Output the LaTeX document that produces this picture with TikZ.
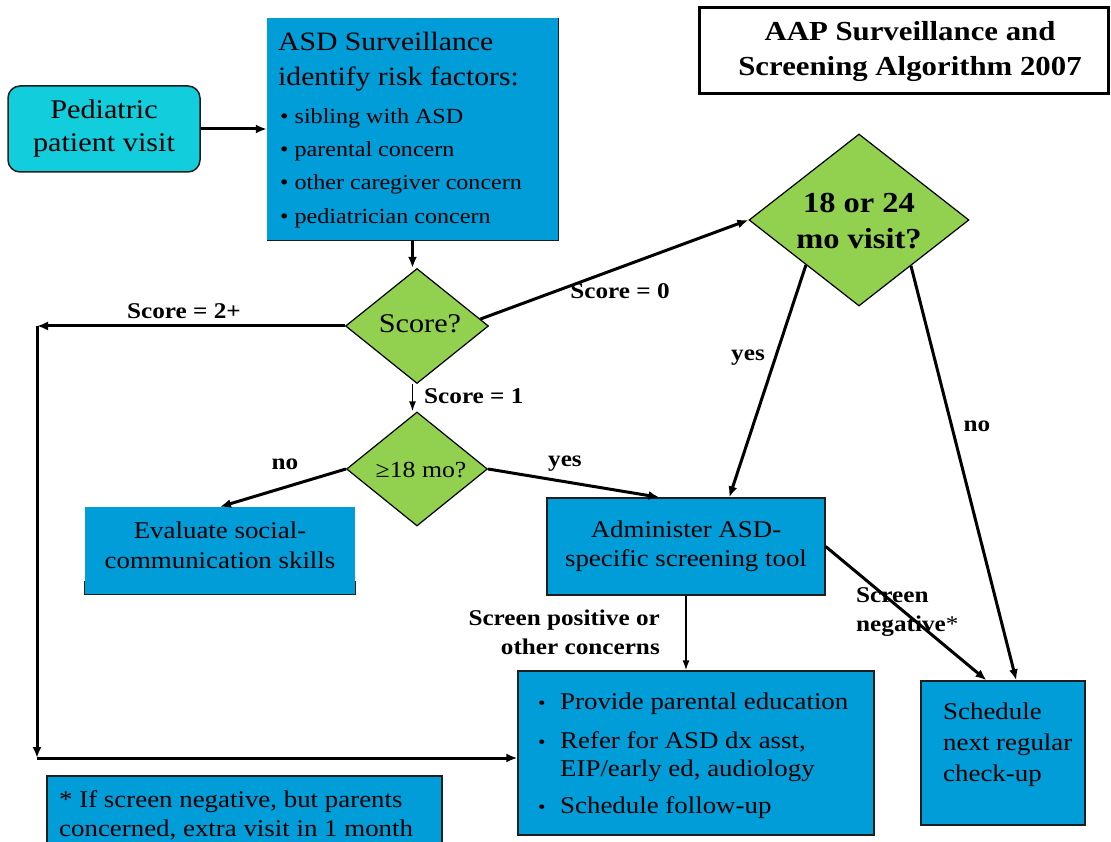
\documentclass[tikz,border=0pt]{standalone}
\usepackage{fontspec}
\setmainfont{Liberation Serif}[FakeStretch=1.12]
\usetikzlibrary{shapes.geometric,arrows.meta,calc}
\definecolor{boxblue}{RGB}{0,157,217}
\definecolor{diagreen}{RGB}{146,208,80}
\definecolor{pedcyan}{RGB}{18,206,220}
\definecolor{edgecol}{RGB}{30,30,30}
\newcommand{\fsz}[2]{\fontsize{#1}{#2}\selectfont}
\begin{document}
\begin{tikzpicture}[x=1pt,y=-1pt,
  arr/.style={line width=3pt,-{Latex[length=11pt,width=9pt]}},
  thinarr/.style={line width=1.5pt,-{Latex[length=10pt,width=7pt]}},
  bluebox/.style={fill=boxblue,draw=edgecol,line width=1.3pt,inner sep=0pt},
  dia/.style={diamond,fill=diagreen,draw=black,line width=1.2pt,inner sep=0pt},
  lbl/.style={font=\bfseries\fsz{22.5}{29},inner sep=0pt},
  txt/.style={inner sep=0pt},
]
\fill[white] (0,0) rectangle (1111,842);
\useasboundingbox (0,0) rectangle (1111,842);

% title
\node[draw=black,line width=3pt,fill=white,minimum width=409pt,minimum height=86pt,inner sep=0pt] (title) at (903.5,51) {};
\node[txt,font=\bfseries\fsz{27.5}{35},align=center] (titletxt) at (910,51) {AAP Surveillance and\\Screening Algorithm 2007};

% pediatric
\node[fill=pedcyan,draw=edgecol,line width=1.5pt,rounded corners=12pt,minimum width=192pt,minimum height=86pt,inner sep=0pt,font=\fsz{27}{33},align=center] (ped) at (104,129) {Pediatric\\patient visit};

% ASD surveillance box
\node[fill=boxblue,inner sep=0pt,minimum width=291pt,minimum height=222pt] (asd) at (412.5,129) {};
\draw[edgecol,line width=1.2pt] (asd.north east) -- (asd.south east) -- (asd.south west);
\node[txt,anchor=west,align=left,font=\fsz{26.5}{35}] (asdhead) at (278,62) {ASD Surveillance\\identify risk factors:};
\node[txt,anchor=west,align=left,font=\fsz{21.5}{33.3}] (asdlist) at (280,168) {\textbullet\ sibling with ASD\\\textbullet\ parental concern\\\textbullet\ other caregiver concern\\\textbullet\ pediatrician concern};

% diamonds
\node[dia,minimum width=143pt,minimum height=115pt] (score) at (417,326) {};
\node[txt,font=\fsz{27}{30}] (scoretxt) at (420,324) {Score?};
\node[dia,minimum width=141pt,minimum height=114pt] (ge) at (417,469) {};
\node[txt,font=\fsz{23}{26}] (getxt) at (421,470) {≥18 mo?};
\node[dia,minimum width=220pt,minimum height=172pt] (d18) at (859,220) {};
\node[txt,font=\bfseries\fsz{29}{36},align=center] (d18txt) at (859,221) {18 or 24\\mo visit?};

% evaluate box
\node[fill=boxblue,inner sep=0pt,minimum width=270pt,minimum height=87pt] (eval) at (220,550.5) {};
\draw[edgecol,line width=1.2pt] ([yshift=13pt]eval.south west) -- (eval.south west) -- (eval.south east) -- ([yshift=13pt]eval.south east);
\node[txt,font=\fsz{24}{30},align=center] (evaltxt) at (220,545) {Evaluate social-\\communication skills};

% administer box
\node[bluebox,minimum width=278pt,minimum height=97pt,font=\fsz{24}{28.5},align=center] (admin) at (686,546.5) {Administer ASD-\\specific screening tool};

% final box
\node[bluebox,minimum width=356pt,minimum height=164pt] (final) at (696,753) {};
\node[txt,anchor=west,align=left,font=\fsz{24}{28}] (finaltxt) at (538,756) {\makebox[22pt][l]{\fsz{19}{28}\textbullet}Provide parental education\\[11pt]\makebox[22pt][l]{\fsz{19}{28}\textbullet}Refer for ASD dx asst,\\\hspace*{22pt}EIP/early ed, audiology\\[9pt]\makebox[22pt][l]{\fsz{19}{28}\textbullet}Schedule follow-up};

% schedule box
\node[bluebox,line width=1.5pt,minimum width=164pt,minimum height=144pt] (sched) at (1003,753) {};
\node[txt,anchor=west,align=left,font=\fsz{24}{31}] (schedtxt) at (943,745) {Schedule\\next regular\\check-up};

% footnote box
\node[bluebox,minimum width=395pt,minimum height=90pt] (foot) at (244.5,821) {};
\node[txt,anchor=west,align=left,font=\fsz{24}{29}] (foottxt) at (59,815) {* If screen negative, but parents\\concerned, extra visit in 1 month};

% labels
\node[lbl] (l2) at (184,311) {Score = 2+};
\node[lbl] (l0) at (620,291) {Score = 0};
\node[lbl,anchor=west] (l1) at (424,396) {Score = 1};
\node[lbl] (lno1) at (285,464) {no};
\node[lbl] (lyes1) at (565,464) {yes};
\node[lbl] (lyes2) at (748,358) {yes};
\node[lbl] (lno2) at (977,426) {no};
\node[lbl,anchor=west,align=left] (lneg) at (856,612.5) {Screen\\negative\textmd{*}};
\node[lbl,anchor=east,align=right] (lpos) at (660,632.5) {Screen positive or\\other concerns};

% connectors
\coordinate (c1) at (37,326);
\coordinate (c2) at (37,758);
\draw[arr] (ped.east) -- (ped.east -| asd.west);
\draw[arr] (asd.south) -- (asd.south |- score.north);
\draw[arr] (score.west) -- (c1);
\draw[arr] (c1) -- (c2);
\draw[arr] (c2) -- (c2 -| final.west);
\draw[thinarr] (score.south -| asd.south) -- (ge.north -| asd.south);
\draw[arr] ($(score.east)!0.12!(score.north)$) -- (d18.west);
\draw[arr] (ge.west) -- (eval.north);
\draw[arr] (ge.east) -- ($(admin.north west)!0.405!(admin.north east)$);
\draw[arr] ($(d18.west)!0.52!(d18.south)$) -- ($(admin.north west)!0.655!(admin.north east)$);
\draw[arr] ($(d18.south)!0.47!(d18.east)$) -- ($(sched.north west)!0.58!(sched.north east)$);
\draw[arr] (admin.east) -- ($(sched.north west)!0.40!(sched.north east)$);
\draw[thinarr] (admin.south) -- (admin.south |- final.north);
\end{tikzpicture}
\end{document}
